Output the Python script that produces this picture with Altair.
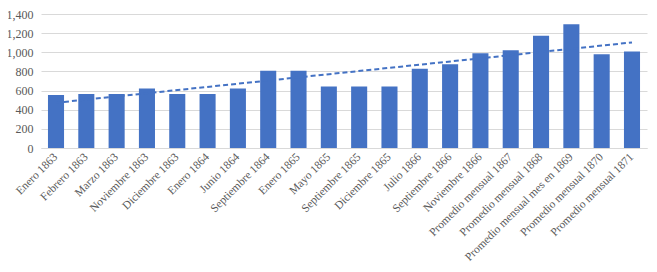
import altair as alt
import pandas as pd

categories = ["Enero 1863", "Febrero 1863", "Marzo 1863", "Noviembre 1863", "Diciembre 1863",
              "Enero 1864", "Junio 1864", "Septiembre 1864", "Enero 1865", "Mayo 1865",
              "Septiembre 1865", "Diciembre 1865", "Julio 1866", "Septiembre 1866", "Noviembre 1866",
              "Promedio mensual 1867", "Promedio mensual 1868", "Promedio mensual mes en 1869",
              "Promedio mensual 1870", "Promedio mensual 1871"]
values = [553, 563, 563, 621, 563, 563, 621, 806, 806, 642,
          642, 642, 827, 876, 991, 1022, 1174, 1293, 980, 1007]
y_ticks = [0, 200, 400, 600, 800, 1000, 1200, 1400]

df = pd.DataFrame({"cat": categories, "v": values, "idx": list(range(len(categories)))})

BLUE = "#4472C4"
FONT = "Liberation Serif"
GRAY = "#595959"

x_scale = alt.Scale(paddingInner=0.47, paddingOuter=0.23)
y_scale = alt.Scale(domain=[0, 1400], nice=False)
x_axis = alt.Axis(labelAngle=-45, labelAlign="right", labelBaseline="middle",
                  labelPadding=7, ticks=False, domainColor="#D9D9D9",
                  labelOverlap=False, labelLimit=300, labelFontSize=11.5)
y_axis = alt.Axis(values=y_ticks, format=",d", ticks=False, domain=False,
                  gridColor="#D9D9D9", labelPadding=8, labelOverlap=False)

bars = alt.Chart(df).mark_bar(color=BLUE).encode(
    x=alt.X("cat:N", sort=categories, title=None, scale=x_scale, axis=x_axis),
    y=alt.Y("v:Q", scale=y_scale, title=None, axis=y_axis),
)

cat_expr = "[" + ",".join('"' + c + '"' for c in categories) + "][round(datum.idx)]"

trend = alt.Chart(df).transform_regression("idx", "v").transform_calculate(
    cat=cat_expr
).mark_line(color=BLUE, strokeWidth=2, strokeDash=[5, 3]).encode(
    x=alt.X("cat:N", sort=categories, title=None, scale=x_scale, axis=x_axis),
    y=alt.Y("v:Q", scale=y_scale, title=None, axis=y_axis),
)

chart = alt.layer(bars, trend).properties(
    width=606, height=134,
    autosize=alt.AutoSizeParams(type="none"),
    padding={"left": 33, "top": 6, "right": 2, "bottom": 116},
).configure_view(stroke=None).configure_axis(
    labelFont=FONT, labelFontSize=12, labelColor=GRAY
)

chart.save("out.html", embed_options={"renderer": "svg", "actions": False})
